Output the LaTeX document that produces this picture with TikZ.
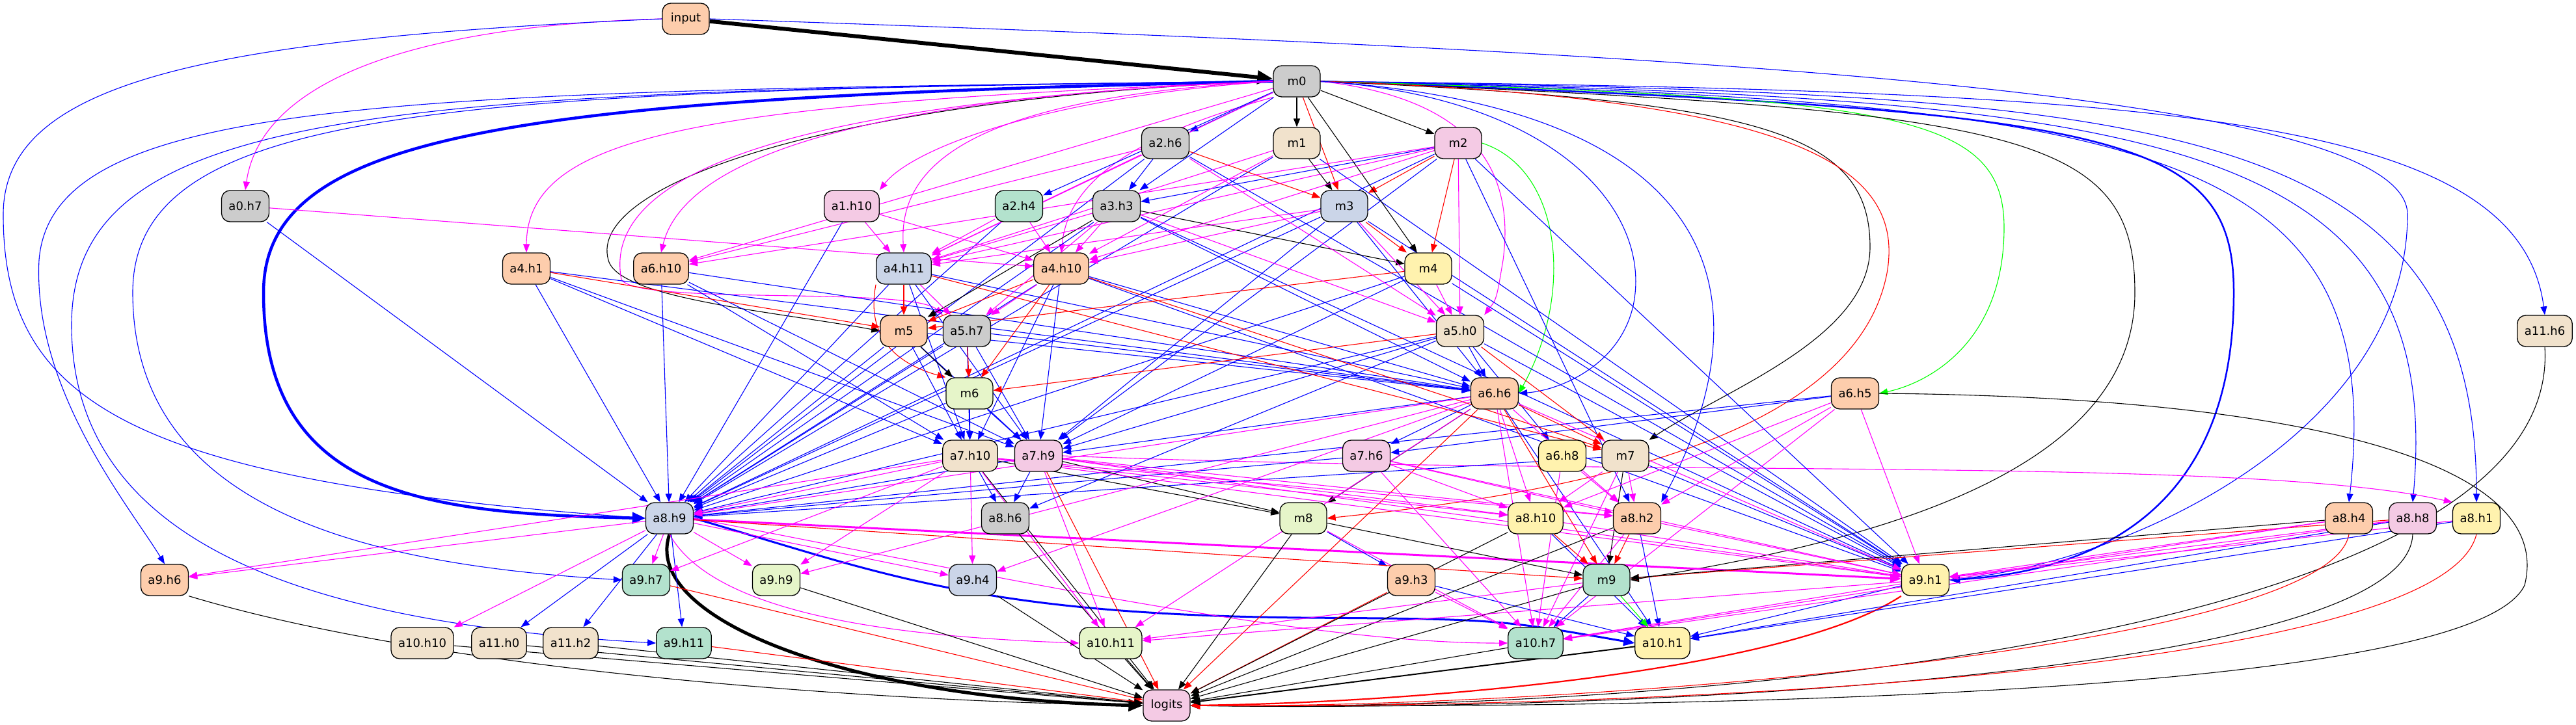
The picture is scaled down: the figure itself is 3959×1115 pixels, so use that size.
\documentclass[tikz,border=0pt]{standalone}
\usepackage{fontspec}
\setmainfont{DejaVu Sans}
\usetikzlibrary{arrows.meta}
\definecolor{cMint}{HTML}{B3E2CD}
\definecolor{cPeach}{HTML}{FDCDAC}
\definecolor{cBlu}{HTML}{CBD5E8}
\definecolor{cPink}{HTML}{F4CAE4}
\definecolor{cLgreen}{HTML}{E6F5C9}
\definecolor{cYel}{HTML}{FFF2AE}
\definecolor{cBeige}{HTML}{F1E2CC}
\definecolor{cGray}{HTML}{CCCCCC}
\definecolor{eMag}{RGB}{255,0,255}
\definecolor{eBlue}{RGB}{0,0,255}
\definecolor{eRed}{RGB}{255,0,0}
\definecolor{eGreen}{RGB}{0,255,0}
\pgfdeclarelayer{bg}
\pgfsetlayers{bg,main}
\tikzset{
  nd/.style={draw=black, line width=1.3pt, rounded corners=13pt, minimum width=72pt,
    minimum height=48pt, inner xsep=11pt, inner ysep=0pt, font=\fontsize{18}{20}\selectfont},
  ed/.style={line width=1.1pt, -{Triangle[length=13pt,width=10pt]}},
  eb/.style={ed, draw=eBlue},
  er/.style={ed, draw=eRed},
  em/.style={ed, draw=eMag},
  ek/.style={ed, draw=black},
  eg/.style={ed, draw=eGreen},
}
\begin{document}
\begin{tikzpicture}[x=1pt,y=1pt]
\useasboundingbox (0,0) rectangle (3959,-1115);
% nodes
\node[nd,fill=cPeach] (input) at (1054,-29) {input};
\node[nd,fill=cGray] (m0) at (1993,-125) {m0};
\node[nd,fill=cGray] (a2h6) at (1791,-220) {a2.h6};
\node[nd,fill=cBeige] (m1) at (1993,-220) {m1};
\node[nd,fill=cPink] (m2) at (2241,-220) {m2};
\node[nd,fill=cGray] (a0h7) at (377,-317) {a0.h7};
\node[nd,fill=cPink] (a1h10) at (1309,-317) {a1.h10};
\node[nd,fill=cMint] (a2h4) at (1566,-317) {a2.h4};
\node[nd,fill=cGray] (a3h3) at (1716,-317) {a3.h3};
\node[nd,fill=cBlu] (m3) at (2066,-317) {m3};
\node[nd,fill=cPeach] (a4h1) at (809,-413) {a4.h1};
\node[nd,fill=cPeach] (a6h10) at (1016,-413) {a6.h10};
\node[nd,fill=cBlu] (a4h11) at (1389,-413) {a4.h11};
\node[nd,fill=cPeach] (a4h10) at (1631,-413) {a4.h10};
\node[nd,fill=cYel] (m4) at (2195,-413) {m4};
\node[nd,fill=cPeach] (m5) at (1389,-509) {m5};
\node[nd,fill=cGray] (a5h7) at (1486,-509) {a5.h7};
\node[nd,fill=cBeige] (a5h0) at (2244,-509) {a5.h0};
\node[nd,fill=cBeige] (a11h6) at (3911,-509) {a11.h6};
\node[nd,fill=cLgreen] (m6) at (1490,-605) {m6};
\node[nd,fill=cPeach] (a6h6) at (2297,-605) {a6.h6};
\node[nd,fill=cPeach] (a6h5) at (2851,-605) {a6.h5};
\node[nd,fill=cBeige] (a7h10) at (1491,-701) {a7.h10};
\node[nd,fill=cPink] (a7h9) at (1596,-701) {a7.h9};
\node[nd,fill=cPink] (a7h6) at (2100,-701) {a7.h6};
\node[nd,fill=cYel] (a6h8) at (2401,-701) {a6.h8};
\node[nd,fill=cBeige] (m7) at (2498,-701) {m7};
\node[nd,fill=cBlu] (a8h9) at (1029,-797) {a8.h9};
\node[nd,fill=cGray] (a8h6) at (1545,-797) {a8.h6};
\node[nd,fill=cLgreen] (m8) at (2003,-797) {m8};
\node[nd,fill=cYel] (a8h10) at (2360,-797) {a8.h10};
\node[nd,fill=cPeach] (a8h2) at (2516,-797) {a8.h2};
\node[nd,fill=cPeach] (a8h4) at (3610,-797) {a8.h4};
\node[nd,fill=cPink] (a8h8) at (3708,-797) {a8.h8};
\node[nd,fill=cYel] (a8h1) at (3806,-797) {a8.h1};
\node[nd,fill=cPeach] (a9h6) at (253,-892) {a9.h6};
\node[nd,fill=cMint] (a9h7) at (993,-892) {a9.h7};
\node[nd,fill=cLgreen] (a9h9) at (1193,-892) {a9.h9};
\node[nd,fill=cBlu] (a9h4) at (1495,-892) {a9.h4};
\node[nd,fill=cPeach] (a9h3) at (2169,-892) {a9.h3};
\node[nd,fill=cMint] (m9) at (2469,-892) {m9};
\node[nd,fill=cYel] (a9h1) at (2959,-892) {a9.h1};
\node[nd,fill=cBeige] (a10h10) at (649,-989) {a10.h10};
\node[nd,fill=cBeige] (a11h0) at (767,-989) {a11.h0};
\node[nd,fill=cBeige] (a11h2) at (877,-989) {a11.h2};
\node[nd,fill=cMint] (a9h11) at (1051,-989) {a9.h11};
\node[nd,fill=cLgreen] (a10h11) at (1707,-989) {a10.h11};
\node[nd,fill=cMint] (a10h7) at (2360,-989) {a10.h7};
\node[nd,fill=cYel] (a10h1) at (2555,-989) {a10.h1};
\node[nd,fill=cPink] (logits) at (1793,-1085) {logits};

\begin{pgfonlayer}{bg}
\fill[white] (0,0) rectangle (3959,-1115);
% ---- special routed edges
\draw[ek, line width=6pt, -{Triangle[length=24pt,width=20pt]}] (input) -- (m0);
\draw[em] (input.west) .. controls (620,-40) and (400,-130) .. (a0h7.north);
\draw[eb] (input.west) .. controls (300,-60) and (5,-130) .. (5,-330) .. controls (5,-620) and (200,-740) .. (a8h9.west);
\draw[eb] (input.east) .. controls (2600,-80) and (3700,-140) .. (3700,-330) .. controls (3700,-650) and (3300,-860) .. (a9h1.east);
\draw[eb, line width=4.5pt, -{Triangle[length=20pt,width=17pt]}] (m0.west) .. controls (800,-150) and (405,-200) .. (405,-450) .. controls (405,-760) and (650,-790) .. (a8h9.west);
\draw[eb, line width=2.5pt, -{Triangle[length=16pt,width=13pt]}] (m0.east) .. controls (3250,-170) and (3433,-200) .. (3433,-450) .. controls (3433,-800) and (3200,-880) .. (a9h1.east);
\draw[eb] (m0.east) .. controls (3300,-140) and (3870,-170) .. (a11h6.north);
\draw[eb] (m0.east) .. controls (3300,-145) and (3806,-170) .. (a8h1.north);
\draw[eb] (m0.east) .. controls (3300,-150) and (3760,-200) .. (a8h8.north);
\draw[eb] (m0.east) .. controls (3300,-155) and (3673,-220) .. (a8h4.north);
\draw[eg] (m0.east) .. controls (2900,-150) and (3080,-170) .. (3080,-350) .. controls (3080,-530) and (2960,-590) .. (a6h5.east);
\draw[eb] (m0.east) .. controls (2400,-150) and (2540,-330) .. (2510,-470) .. controls (2490,-560) and (2400,-600) .. (a6h6.east);
\draw[ek] (m0.east) .. controls (2700,-155) and (2874,-200) .. (2874,-380) .. controls (2874,-520) and (2650,-600) .. (m7.north east);
\draw[ek] (m0.east) .. controls (3100,-170) and (3281,-200) .. (3281,-450) .. controls (3281,-720) and (2900,-830) .. (m9.east);
\draw[er] (m0.east) .. controls (2750,-150) and (2930,-250) .. (2900,-420) .. controls (2850,-680) and (2400,-760) .. (m8.east);
\draw[em] (m0.east) .. controls (2250,-150) and (2330,-250) .. (2310,-400) .. controls (2300,-460) .. (a5h0.north east);
\draw[eb] (m0.east) .. controls (2700,-170) and (2700,-500) .. (a8h2.north east);
\draw[ek] (m0.west) .. controls (1300,-150) and (900,-280) .. (935,-400) .. controls (950,-460) and (1200,-480) .. (m5.west);
\draw[em] (m0.west) .. controls (1100,-160) and (810,-200) .. (a4h1.north);
\draw[eb] (m0.west) .. controls (600,-140) and (80,-150) .. (60,-400) .. controls (50,-600) and (200,-780) .. (a9h6.north);
\draw[eb] (m0.west) .. controls (700,-140) and (204,-160) .. (204,-450) .. controls (204,-800) and (600,-870) .. (a9h7.west);
\draw[eb] (m0.west) .. controls (600,-140) and (110,-160) .. (110,-500) .. controls (110,-850) and (500,-960) .. (a9h11.west);
\draw[em] (m0.west) .. controls (1300,-150) and (1050,-250) .. (a6h10.north);
\draw[em] (m0.west) .. controls (1500,-150) and (1380,-250) .. (a4h11.north);
\draw[em] (m0.west) .. controls (1600,-150) and (1400,-230) .. (a1h10.north east);
\draw[em] (m0.south west) .. controls (1700,-220) and (1640,-300) .. (a4h10.north);
\draw[em] (m0.west) .. controls (1100,-160) and (930,-300) .. (955,-430) .. controls (980,-470) and (1400,-440) .. (a5h7.north west);
\draw[eg] (m2.east) .. controls (2400,-260) and (2420,-450) .. (a6h6.east);
\draw[er] (a4h11.south west) .. controls (1330,-520) and (1380,-560) .. (m6.north west);
\draw[em] (a7h9.east) .. controls (2500,-735) and (3450,-700) .. (a8h1.north west);
\draw[ek] (a6h5.east) .. controls (3500,-610) and (3930,-700) .. (3880,-900) .. controls (3800,-1070) and (2600,-1090) .. (logits.east);
\draw[ek] (a11h6.south) .. controls (3940,-1000) and (2500,-1095) .. (logits.east);
\draw[er] (a8h4.south) .. controls (3580,-1000) and (2400,-1090) .. (logits.east);
\draw[ek] (a8h8.south) .. controls (3700,-1050) and (2400,-1095) .. (logits.east);
\draw[er] (a8h1.south) .. controls (3750,-1050) and (2400,-1090) .. (logits.east);
\draw[er, line width=2.2pt, -{Triangle[length=15pt,width=12pt]}] (a9h1.south west) .. controls (2750,-1030) and (2200,-1080) .. (logits.east);
\draw[ek, line width=5pt, -{Triangle[length=22pt,width=18pt]}] (a8h9.south) .. controls (985,-950) and (1300,-1075) .. (logits.west);
\draw[eb, line width=3pt, -{Triangle[length=17pt,width=14pt]}] (a8h9.east) .. controls (1350,-880) and (1500,-945) .. (2000,-950) .. controls (2300,-952) .. (a10h1.west);
\draw[em, line width=3pt, -{Triangle[length=17pt,width=14pt]}] (a8h9) -- (a9h1);
\draw[em] (a8h9.south) .. controls (1100,-950) and (1400,-980) .. (a10h11.west);
\draw[em] (a8h9.east) .. controls (1500,-880) and (2000,-990) .. (a10h7.west);
\draw[ek] (a9h6.south east) .. controls (700,-1040) and (1400,-1080) .. (logits.west);
\draw[ek, line width=2pt, -{Triangle[length=15pt,width=12pt]}] (a10h1) -- (logits);
% ---- blue straight
\foreach \ua/\ub in {m0/a2h6, m0/a3h3, m0/a2h4, m1/a8h9, m1/a9h1,
  m2/a3h3, m2/a8h9, m2/a9h1, m2/a8h2, m2/a7h9,
  a2h6/a3h3, a2h6/a8h9, a2h6/a9h1, a0h7/a8h9, a1h10/a8h9, a2h4/a8h9,
  a3h3/a8h9, a3h3/a9h1, a3h3/a6h6, m3/a8h9, m3/a9h1, m3/a7h9, m3/a6h6,
  a4h1/a8h9, a4h1/a7h10, a4h1/a6h6, a4h1/a7h9,
  a6h10/a8h9, a6h10/a7h10, a6h10/a6h6, a6h10/a7h9,
  a4h11/a8h9, a4h11/a7h10, a4h11/a7h9, a4h11/a6h6,
  a4h10/a8h9, a4h10/a7h9, a4h10/a6h6, a4h10/a9h1, a4h10/a7h10,
  m4/a9h1, m4/a8h9, m4/a7h9, m5/a8h9, m5/a7h10, m5/a6h6, m5/a7h9,
  a5h7/a8h9, a5h7/a7h10, a5h7/a7h9, a5h7/a6h6,
  a5h0/a6h6, a5h0/a6h8, a5h0/a8h9, a5h0/a7h9, a5h0/a8h6, a5h0/a9h1,
  m6/a7h10, m6/a7h9, m6/a8h9, a6h6/a7h6, a6h6/a10h1, a6h6/a7h9,
  a6h5/a7h6, a6h5/a8h9, a7h10/a8h6, a7h9/a8h6, a7h9/a8h9, a7h6/a8h9,
  m7/a9h1, m7/a8h9, a8h9/a11h0, a8h9/a11h2, a8h9/a9h11, m8/a9h3,
  a8h10/a10h1, a8h2/a10h1, a8h8/a10h1, a8h1/a10h1, a9h3/a10h1, m9/a10h7, a9h1/a10h1}
  \draw[eb] (\ua) -- (\ub);
% ---- red straight
\foreach \ua/\ub in {m0/m3, m2/m3, m2/m4, a2h6/m3, m3/m4, a4h1/m5, a4h11/m5, a4h10/m5, m4/m5,
  a4h10/m6, a5h7/m6, a5h0/m6, a4h11/m7, a4h10/m7, a5h0/m7, a6h6/m7, a6h6/m9,
  a8h9/m9, a8h10/m9, a8h2/m9, a8h8/m9, a6h6/logits, a7h9/logits, a9h7/logits,
  a9h11/logits, a9h3/logits}
  \draw[er] (\ua) -- (\ub);
% ---- black straight
\foreach \ua/\ub in {m0/m1, m0/m2, m0/m4, m1/m3, a3h3/m4, a3h3/m5, m5/m6, a6h6/m8, a7h10/m8,
  a7h9/m8, m8/m9, m7/m9, a8h4/m9, a9h9/logits, a9h4/logits, a7h10/logits, a8h6/logits,
  a10h11/logits, m8/logits, m9/logits, a10h7/logits, a10h10/logits, a11h0/logits,
  a11h2/logits, a8h10/logits, a8h2/logits}
  \draw[ek] (\ua) -- (\ub);
% ---- magenta straight
\foreach \ua/\ub in {m0/a6h10, m0/a4h11, m1/a4h10, m1/a4h11,
  m2/a5h0, m2/a6h10, m2/a4h10, m2/a4h11, a2h6/a6h10, a2h6/a4h11, a2h6/a5h0,
  a0h7/a4h10, a1h10/a4h11, a1h10/a4h10, a2h4/a4h11, a2h4/a4h10,
  a3h3/a4h11, a3h3/a4h10, a3h3/a5h7, a3h3/a5h0, m3/a4h10, m3/a4h11, m3/a5h0,
  a4h11/a5h7, a4h10/a5h7, m4/a5h0,
  a6h6/a10h7, a6h6/a8h10, a6h6/a8h2, a6h6/a9h1, a6h6/a10h11, a6h6/a9h4, a6h6/a8h9, a6h6/a9h9,
  a6h5/a8h10, a6h5/a8h2, a6h5/a9h1, a6h5/a10h7,
  a7h10/a8h9, a7h10/a9h6, a7h10/a9h7, a7h10/a9h9, a7h10/a9h4, a7h10/a10h11,
  a7h10/a8h10, a7h10/a8h2, a7h10/a9h1,
  a7h9/a10h11, a7h9/a8h10, a7h9/a8h2, a7h9/a9h1,
  a7h6/a8h10, a7h6/a8h2, a7h6/a10h7, a7h6/a9h1, a6h8/a8h2, a6h8/a10h7,
  m7/a8h2, m7/a8h10, m7/a10h7,
  a8h9/a9h6, a8h9/a9h7, a8h9/a9h9, a8h9/a9h4, a8h9/a10h10, m8/a10h7,
  a8h10/a9h1, a8h2/a10h7, a8h2/a9h1, a8h4/a9h1, a8h4/a10h7, a8h8/a9h1, a8h8/a10h7,
  a8h1/a9h1, a9h3/a10h7, m9/a10h11, a9h1/a10h7, a9h1/a10h11}
  \draw[em] (\ua) -- (\ub);
% ---- green straight
\draw[eg] (m9) -- (a10h1);
\end{pgfonlayer}
\end{tikzpicture}
\end{document}
